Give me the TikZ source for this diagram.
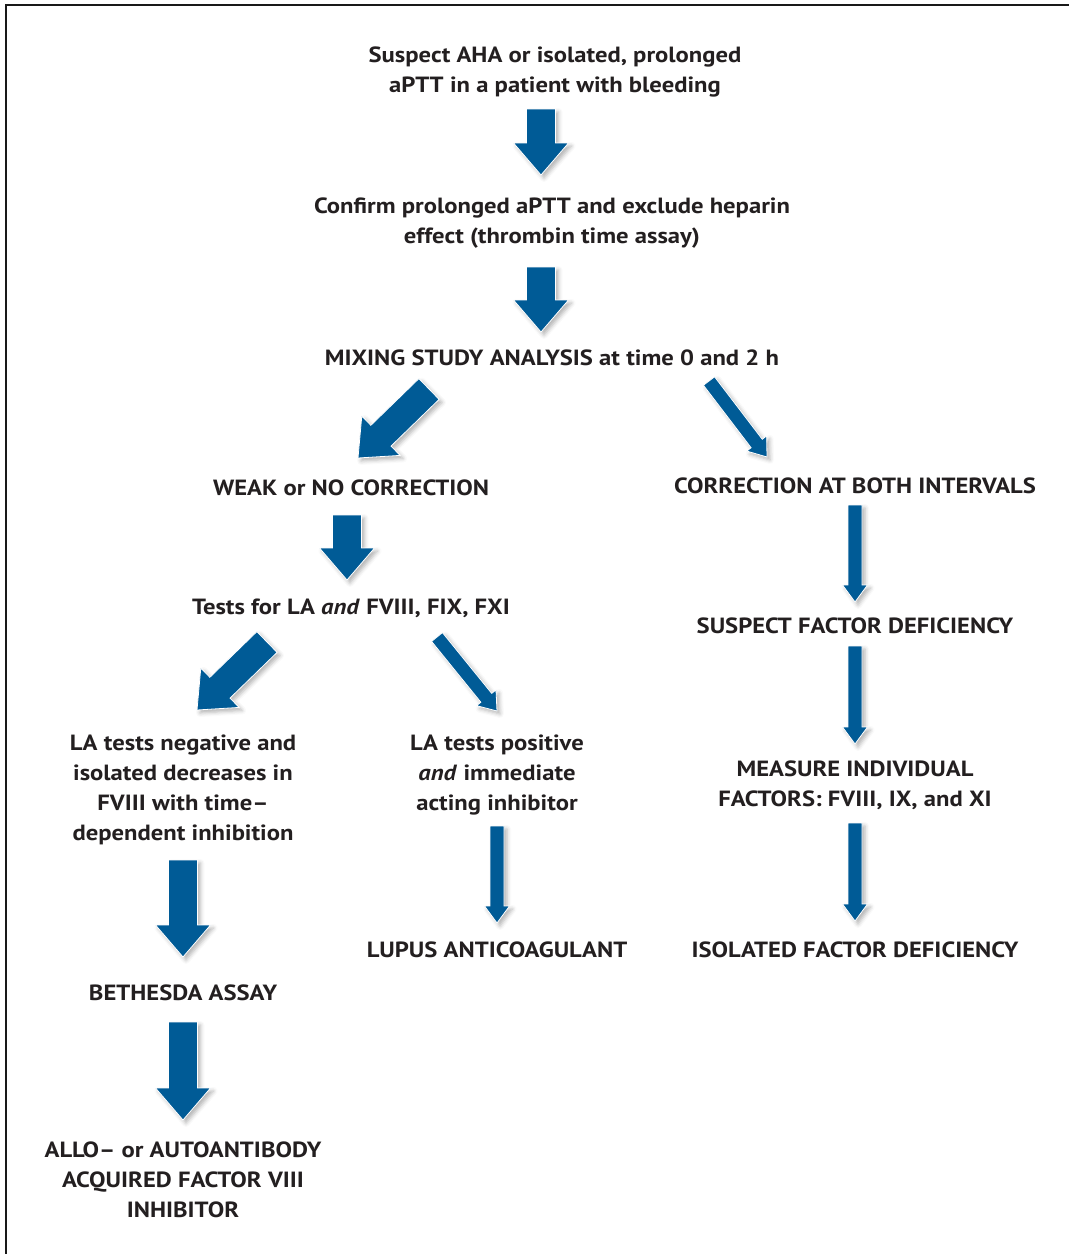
\documentclass[tikz,border=0pt]{standalone}
\usepackage{fontspec}
\setmainfont{PT Sans}[FakeStretch=1.12]
\usetikzlibrary{calc,shadows.blur}
\definecolor{arrowblue}{RGB}{0,91,150}
\definecolor{txt}{RGB}{35,31,32}
\tikzset{
  arrowstyle/.style={fill=arrowblue,draw=white,line width=0.8pt,line join=miter,
    blur shadow={shadow xshift=3pt,shadow yshift=-3pt,shadow blur radius=4pt,shadow opacity=30}},
  lbl/.style={align=center,text=txt,font=\bfseries\fontsize{22}{30}\selectfont,inner sep=0pt}
}
\newcommand\blockarrow[5]{%
  \coordinate (bs) at #1; \coordinate (bt) at #2;
  \coordinate (bb) at ($(bt)!#5!(bs)$);
  \path[arrowstyle] ($(bs)!#3!90:(bt)$) -- ($(bb)!#3!90:(bt)$) -- ($(bb)!#4!90:(bt)$) -- (bt)
    -- ($(bb)!#4!-90:(bt)$) -- ($(bb)!#3!-90:(bt)$) -- ($(bs)!#3!-90:(bt)$) -- cycle;}
\newcommand\bigarrow[2]{\blockarrow{#1}{#2}{14.5pt}{27.5pt}{32pt}}
\newcommand\thinarrow[2]{\blockarrow{#1}{#2}{7pt}{12.5pt}{17pt}}
\begin{document}
\begin{tikzpicture}[x=1pt,y=-1pt]
\useasboundingbox (0,0) rectangle (1069,1254);
\draw[line width=1.4pt,black!90] (1069,5) -- (6,5) -- (6,1254);

\node[lbl] (suspect) at (555,72) {Suspect AHA or isolated, prolonged\\aPTT in a patient with bleeding};
\node[lbl] (confirm) at (552,223) {Confirm prolonged aPTT and exclude heparin\\effect (thrombin time assay)};
\node[lbl] (mixing) at (552,358) {MIXING STUDY ANALYSIS at time 0 and 2 h};
\node[lbl] (weak) at (351,488) {WEAK or NO CORRECTION};
\node[lbl] (corr) at (855,486) {CORRECTION AT BOTH INTERVALS};
\node[lbl] (tests) at (351,608) {Tests for LA \textit{and} FVIII, FIX, FXI};
\node[lbl] (susfac) at (855,626) {SUSPECT FACTOR DEFICIENCY};
\node[lbl] (laneg) at (183,790) {LA tests negative and\\isolated decreases in\\FVIII with time–\\dependent inhibition};
\node[lbl] (lapos) at (497,775) {LA tests positive\\\textit{and} immediate\\acting inhibitor};
\node[lbl] (measure) at (855,785) {MEASURE INDIVIDUAL\\FACTORS: FVIII, IX, and XI};
\node[lbl] (lupus) at (497,950) {LUPUS ANTICOAGULANT};
\node[lbl] (isofac) at (855,950) {ISOLATED FACTOR DEFICIENCY};
\node[lbl] (beth) at (183,993) {BETHESDA ASSAY};
\node[lbl] (allo) at (183,1180) {ALLO– or AUTOANTIBODY\\ACQUIRED FACTOR VIII\\INHIBITOR};

\bigarrow{(541,109)}{(541,175)}
\bigarrow{(541,267)}{(541,332)}
\bigarrow{(347,515)}{(347,580)}
\bigarrow{(429,389)}{(358,458)}
\bigarrow{(267,642)}{(197,710)}
\bigarrow{(183,860)}{(183,957)}
\bigarrow{(183,1022)}{(183,1120)}
\thinarrow{(709,381)}{(767,457)}
\thinarrow{(437,637)}{(497,711)}
\thinarrow{(855,505)}{(855,602)}
\thinarrow{(855,646)}{(855,744)}
\thinarrow{(855,823)}{(855,921)}
\thinarrow{(497,826)}{(497,923)}
\end{tikzpicture}
\end{document}
